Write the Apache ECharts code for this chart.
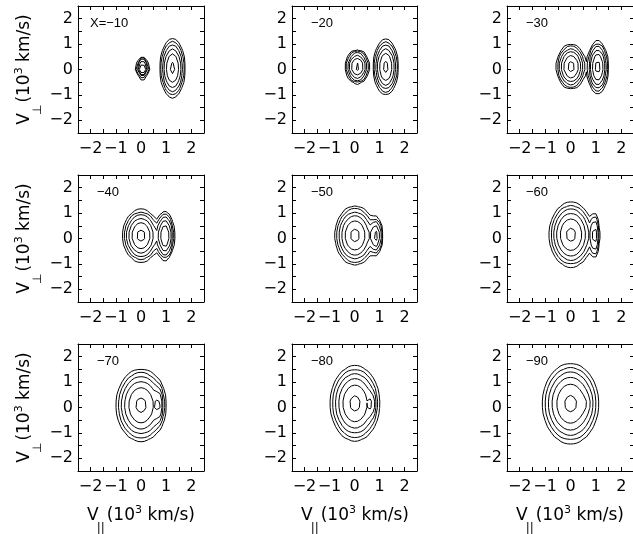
<!DOCTYPE html>
<html><head><meta charset="utf-8">
<script src="https://cdn.jsdelivr.net/npm/echarts@6/dist/echarts.min.js"></script>
<style>html,body{margin:0;padding:0;background:#fff}#c{width:633px;height:534px}</style>
</head><body><div id="c"></div>
<script>
// ---- data ----
const panelLabels = ['X=−10', '−20', '−30', '−40', '−50', '−60', '−70', '−80', '−90'];
const tickValues = [-2, -1, 0, 1, 2];
const axisMin = -2.5, axisMax = 2.5;
// core component (units of 10^3 km/s)
const coreAmp = [1, 1, 1, 1, 1, 1, 1, 1, 1];
const coreVpar = [0.06, 0.11, 0.02, 0, 0.02, 0.02, 0, 0.02, 0];
const coreVperp = [0.05, 0.11, 0.11, 0.11, 0.12, 0.15, 0.09, 0.16, 0.15];
const coreWpar = [0.13, 0.25, 0.30, 0.38, 0.42, 0.45, 0.52, 0.52, 0.58];
const coreWperp = [0.195, 0.34, 0.45, 0.53, 0.60, 0.66, 0.74, 0.77, 0.82];
// beam component
const beamAmp = [1, 1, 1, 0.8, 0.5, 0.3, 0.4, 0.38, 0.15];
const beamVpar = [1.25, 1.25, 1.07, 0.95, 0.85, 0.95, 0.70, 0.68, 0.55];
const beamVperp = [0.05, 0.10, 0.09, 0.10, 0.10, 0.12, 0.10, 0.14, 0.15];
const beamWpar = [0.26, 0.26, 0.215, 0.20, 0.16, 0.12, 0.11, 0.09, 0.2];
const beamWperp = [0.60, 0.56, 0.53, 0.51, 0.42, 0.55, 0.45, 0.35, 0.30];
// contour levels, fraction of panel maximum
const levelFractions = [0.86, 0.43, 0.215, 0.108, 0.054, 0.027];

// ---- layout ----
const colLeft = [78, 292, 507], colWidth = [126, 125, 127];
const rowTop = [6, 175, 344], rowHeight = 127;
const FONT = 'DejaVu Sans';

function field(p, x, y) {
  const a = (x - coreVpar[p]) / coreWpar[p], b = (y - coreVperp[p]) / coreWperp[p];
  const c = (x - beamVpar[p]) / beamWpar[p], d = (y - beamVperp[p]) / beamWperp[p];
  return coreAmp[p] * Math.exp(-a * a - b * b) + beamAmp[p] * Math.exp(-c * c - d * d);
}

// sampling grid of the distribution (coarse, as in the original)
const XSTEP = 0.125, YSTEP = 0.25;
const NX = Math.round((axisMax - axisMin) / XSTEP) + 1, NY = Math.round((axisMax - axisMin) / YSTEP) + 1;
const xs = [], ys = [];
for (let i = 0; i < NX; i++) xs.push(axisMin + i * XSTEP);
for (let j = 0; j < NY; j++) ys.push(axisMin + j * YSTEP);

function contourLines(p, level) {
  const g = [];
  for (let j = 0; j < NY; j++) { const row = []; for (let i = 0; i < NX; i++) row.push(field(p, xs[i], ys[j])); g.push(row); }
  const pts = new Map(); const segs = [];
  const it = (a, b, va, vb) => a + (level - va) / (vb - va) * (b - a);
  const cr = (va, vb) => (va >= level) !== (vb >= level);
  for (let j = 0; j < NY - 1; j++) for (let i = 0; i < NX - 1; i++) {
    const v0 = g[j][i], v1 = g[j][i + 1], v2 = g[j + 1][i + 1], v3 = g[j + 1][i];
    const E = [null, null, null, null];
    if (cr(v0, v1)) { const k = 'h' + i + '_' + j; pts.set(k, [it(xs[i], xs[i + 1], v0, v1), ys[j]]); E[0] = k; }
    if (cr(v1, v2)) { const k = 'v' + (i + 1) + '_' + j; pts.set(k, [xs[i + 1], it(ys[j], ys[j + 1], v1, v2)]); E[1] = k; }
    if (cr(v3, v2)) { const k = 'h' + i + '_' + (j + 1); pts.set(k, [it(xs[i], xs[i + 1], v3, v2), ys[j + 1]]); E[2] = k; }
    if (cr(v0, v3)) { const k = 'v' + i + '_' + j; pts.set(k, [xs[i], it(ys[j], ys[j + 1], v0, v3)]); E[3] = k; }
    const present = E.filter(k => k !== null);
    if (present.length === 2) segs.push(present);
    else if (present.length === 4) {
      const c = (v0 + v1 + v2 + v3) / 4 >= level;
      const diag02 = v0 >= level;
      if (diag02 === c) { segs.push([E[0], E[1]]); segs.push([E[2], E[3]]); }
      else { segs.push([E[3], E[0]]); segs.push([E[1], E[2]]); }
    }
  }
  const adj = new Map();
  segs.forEach((s, idx) => s.forEach(k => { if (!adj.has(k)) adj.set(k, []); adj.get(k).push(idx); }));
  const used = new Array(segs.length).fill(false);
  const out = [];
  for (let s = 0; s < segs.length; s++) {
    if (used[s]) continue;
    used[s] = true;
    let path = [segs[s][0], segs[s][1]];
    for (let dir = 0; dir < 2; dir++) {
      while (true) {
        const end = path[path.length - 1];
        const cand = adj.get(end).find(ix => !used[ix]);
        if (cand === undefined) break;
        used[cand] = true;
        const sg = segs[cand];
        path.push(sg[0] === end ? sg[1] : sg[0]);
      }
      path.reverse();
    }
    out.push(path.map(k => pts.get(k)));
  }
  return out;
}

function fmt(v) {
  if (Math.abs(v - Math.round(v)) > 1e-6 || tickValues.indexOf(Math.round(v)) < 0) return '';
  const r = Math.round(v);
  return r < 0 ? '−' + Math.abs(r) : String(r);
}

const grids = [], xAxes = [], yAxes = [], series = [], graphics = [];
const lineStyle = { color: '#000', width: 1 };
for (let p = 0; p < 9; p++) {
  const r = Math.floor(p / 3), c = p % 3;
  grids.push({ left: colLeft[c], top: rowTop[r], width: colWidth[c], height: rowHeight, containLabel: false, outerBoundsMode: 'none' });
  const common = { type: 'value', min: axisMin, max: axisMax, interval: 0.5, gridIndex: p,
    axisLine: { show: true, onZero: false, lineStyle },
    axisTick: { show: true, inside: true, length: 4, lineStyle },
    splitLine: { show: false } };
  xAxes.push(Object.assign({}, common, { position: 'bottom',
    axisLabel: { formatter: fmt, color: '#000', fontSize: 16, fontFamily: FONT, margin: 8 } }));
  xAxes.push(Object.assign({}, common, { position: 'top', axisLabel: { show: false } }));
  yAxes.push(Object.assign({}, common, { position: 'left',
    axisLabel: { formatter: fmt, color: '#000', fontSize: 16, fontFamily: FONT, margin: 5 } }));
  yAxes.push(Object.assign({}, common, { position: 'right', axisLabel: { show: false } }));

  let fmax = 0;
  for (let j = 0; j < NY; j++) for (let i = 0; i < NX; i++) {
    const v = field(p, xs[i], ys[j]); if (v > fmax) fmax = v;
  }
  const data = [];
  levelFractions.forEach(f => contourLines(p, f * fmax).forEach(coords => data.push({ coords })));
  series.push({ type: 'lines', coordinateSystem: 'cartesian2d', polyline: true,
    xAxisIndex: p * 2, yAxisIndex: p * 2, silent: true, animation: false,
    lineStyle: { color: '#000', width: 1, opacity: 1, curveness: 0 }, data });

  graphics.push({ type: 'text', left: colLeft[c] + (p === 0 ? 12 : 19), top: rowTop[r] + 11,
    style: { text: panelLabels[p], font: '13px "Liberation Sans"', fill: '#000' } });
}

// axis titles built from text pieces
const mctx = document.createElement('canvas').getContext('2d');
function pieces(list) {
  let w = 0; const out = [];
  list.forEach(pc => { mctx.font = pc.size + 'px "' + FONT + '"'; const tw = mctx.measureText(pc.t).width; out.push(Object.assign({ x: w + (pc.dx || 0) }, pc)); w += tw + (pc.gap || 0); });
  return { out, w };
}
function titleGroup(cx, cy, rot) {
  const { out, w } = pieces([
    { t: 'V', size: 17, dy: 0, gap: -2 },
    { t: rot ? '⊥' : '||', size: 12, dy: 13, gap: 2 },
    { t: '(10', size: 17, dy: 0 },
    { t: '3', size: 11, dy: -6 },
    { t: ' km/s)', size: 17, dy: 0 }]);
  return { type: 'group', x: cx, y: cy, rotation: rot ? Math.PI / 2 : 0,
    children: out.map(pc => ({ type: 'text', x: pc.x - w / 2, y: pc.dy,
      style: { text: pc.t, font: pc.size + 'px "' + FONT + '"', fill: '#000', verticalAlign: 'middle', align: 'left' } })) };
}
for (let r = 0; r < 3; r++) graphics.push(titleGroup(25, rowTop[r] + rowHeight / 2, true));
for (let c = 0; c < 3; c++) graphics.push(titleGroup(colLeft[c] + 63, 516, false));

const chart = echarts.init(document.getElementById('c'), null, { renderer: 'canvas' });
chart.setOption({ animation: false, backgroundColor: '#fff', grid: grids, xAxis: xAxes, yAxis: yAxes, series, graphic: graphics });
</script></body></html>
